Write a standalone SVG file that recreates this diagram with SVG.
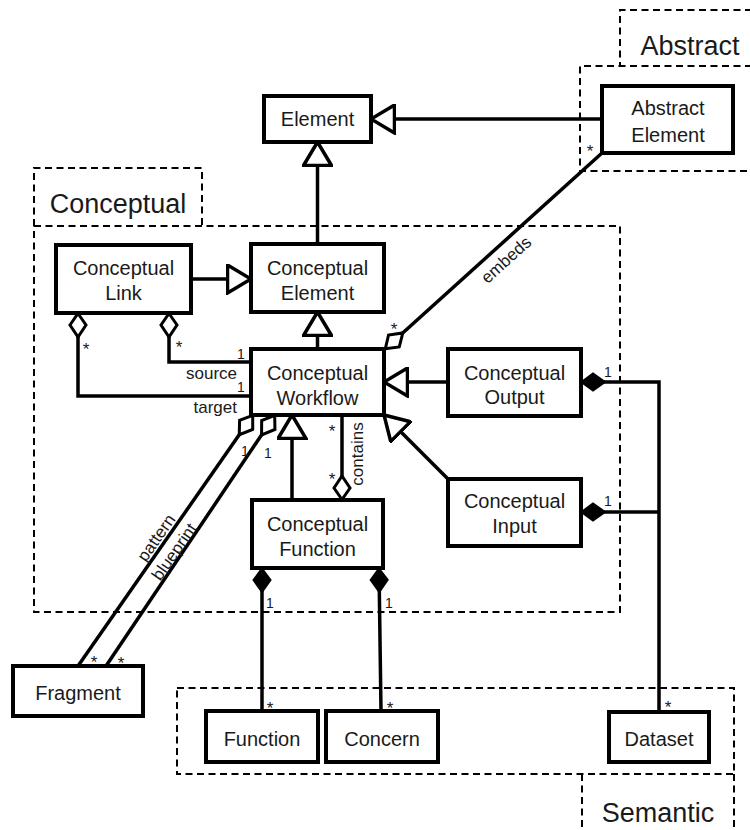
<svg xmlns="http://www.w3.org/2000/svg" width="750" height="830" viewBox="0 0 750 830">
<style>
.pkg{fill:none;stroke:#000;stroke-width:2;stroke-dasharray:7 4.5}
.box{fill:#fff;stroke:#000;stroke-width:4}
.ln{fill:none;stroke:#000;stroke-width:3.5;stroke-linejoin:miter}
.gen{marker-end:url(#tri)}
.agg{marker-start:url(#hdia)}
.cmp{marker-start:url(#fdia)}
text{font-family:"Liberation Sans",Arial,sans-serif;fill:#1a1a1a}
.nt{font-size:20px;text-anchor:middle}
.pt{font-size:27px;text-anchor:middle}
.m{font-size:14px}
.s{font-size:17px;text-anchor:middle}
.r{font-size:17px}
</style>
<defs>
<marker id="tri" viewBox="0 0 27 31" refX="25" refY="15.5" markerWidth="27" markerHeight="31" markerUnits="userSpaceOnUse" orient="auto">
<path d="M1.5,1.5 L25,15.5 L1.5,29.5 Z" fill="#fff" stroke="#000" stroke-width="3.5" stroke-linejoin="miter"/>
</marker>
<marker id="hdia" viewBox="0 0 27 20" refX="1" refY="10" markerWidth="27" markerHeight="20" markerUnits="userSpaceOnUse" orient="auto">
<path d="M1.5,10 L13,2 L25,10 L13,18 Z" fill="#fff" stroke="#000" stroke-width="3"/>
</marker>
<marker id="fdia" viewBox="0 0 27 20" refX="1" refY="10" markerWidth="27" markerHeight="20" markerUnits="userSpaceOnUse" orient="auto">
<path d="M1.5,10 L13,1.5 L25,10 L13,18.5 Z" fill="#000" stroke="#000" stroke-width="2"/>
</marker>
</defs>
<g id="packages">
<path class="pkg" d="M752,10 H620 V66 M752,66 H580 V171 H752"/>
<text class="pt" x="690" y="55">Abstract</text>
<path class="pkg" d="M34,226 V168 H202 V226 M34,226 H620 V612 H34 Z"/>
<text class="pt" x="118" y="213">Conceptual</text>
<path class="pkg" d="M177,688 H734 V774 H177 Z M582,774 V832 M734,774 V832"/>
<text class="pt" x="658" y="822">Semantic</text>
</g>
<g id="connectors">
<path class="ln gen" d="M602,119 H371"/>
<path class="ln gen" d="M317.5,244 V142"/>
<path class="ln gen" d="M191,279 H251"/>
<path class="ln gen" d="M317.5,349 V312"/>
<path class="ln gen" d="M448,382 H384"/>
<path class="ln gen" d="M448,479 L384,415"/>
<path class="ln gen" d="M292,500 V415"/>
<path class="ln agg" d="M169,313 V362 H251"/>
<path class="ln agg" d="M78,313 V396 H251"/>
<path class="ln agg" d="M342,500 V415"/>
<path class="ln agg" d="M385,349 L602,153"/>
<path class="ln agg" d="M253,415 L78,666"/>
<path class="ln agg" d="M275,415 L106,666"/>
<path class="ln cmp" d="M262,568 V711"/>
<path class="ln cmp" d="M379,568 L381,711"/>
<path class="ln cmp" d="M581,382 H659 V712"/>
<path class="ln cmp" d="M581,512 H659"/>
<g id="labels">
<text class="s" x="86" y="355">*</text>
<text class="s" x="179" y="353">*</text>
<text class="m" x="237" y="359">1</text>
<text class="r" x="237" y="379" text-anchor="end">source</text>
<text class="m" x="237" y="392">1</text>
<text class="r" x="237" y="413" text-anchor="end">target</text>
<text class="s" x="332" y="437">*</text>
<text class="s" x="332" y="485">*</text>
<text class="r" transform="translate(363,454) rotate(-90)" text-anchor="middle">contains</text>
<text class="s" x="394" y="335">*</text>
<text class="s" x="590" y="157">*</text>
<text class="r" transform="translate(510,264) rotate(-42.1)" text-anchor="middle">embeds</text>
<text class="m" x="241" y="456">1</text>
<text class="m" x="264" y="458">1</text>
<text class="r" transform="translate(161,541) rotate(-55)" text-anchor="middle">pattern</text>
<text class="r" transform="translate(179,555) rotate(-55)" text-anchor="middle">blueprint</text>
<text class="s" x="94" y="668">*</text>
<text class="s" x="121" y="669">*</text>
<text class="m" x="266" y="608">1</text>
<text class="m" x="385" y="608">1</text>
<text class="s" x="270" y="714">*</text>
<text class="s" x="390" y="714">*</text>
<text class="m" x="604" y="377">1</text>
<text class="m" x="604" y="506">1</text>
<text class="s" x="668" y="713">*</text>
</g>
</g>
<g id="Element"><rect class="box" x="264" y="96" width="107" height="46"/><text class="nt" x="317.5" y="126">Element</text></g>
<g id="AbstractElement"><rect class="box" x="602" y="86" width="131" height="67"/><text class="nt" x="668" y="115">Abstract</text><text class="nt" x="668" y="142">Element</text></g>
<g id="ConceptualLink"><rect class="box" x="56" y="245" width="135" height="68"/><text class="nt" x="123.5" y="275">Conceptual</text><text class="nt" x="123.5" y="300">Link</text></g>
<g id="ConceptualElement"><rect class="box" x="251" y="244" width="133" height="68"/><text class="nt" x="317.5" y="275">Conceptual</text><text class="nt" x="317.5" y="300">Element</text></g>
<g id="ConceptualWorkflow"><rect class="box" x="251" y="349" width="133" height="66"/><text class="nt" x="317.5" y="380">Conceptual</text><text class="nt" x="317.5" y="405">Workflow</text></g>
<g id="ConceptualOutput"><rect class="box" x="448" y="349" width="133" height="67"/><text class="nt" x="514.5" y="380">Conceptual</text><text class="nt" x="514.5" y="404">Output</text></g>
<g id="ConceptualInput"><rect class="box" x="448" y="479" width="133" height="67"/><text class="nt" x="514.5" y="508">Conceptual</text><text class="nt" x="514.5" y="533">Input</text></g>
<g id="ConceptualFunction"><rect class="box" x="252" y="500" width="131" height="68"/><text class="nt" x="317.5" y="531">Conceptual</text><text class="nt" x="317.5" y="556">Function</text></g>
<g id="Fragment"><rect class="box" x="13" y="666" width="130" height="50"/><text class="nt" x="78" y="700">Fragment</text></g>
<g id="Function"><rect class="box" x="206" y="711" width="112" height="51"/><text class="nt" x="262" y="746">Function</text></g>
<g id="Concern"><rect class="box" x="326" y="711" width="112" height="51"/><text class="nt" x="382" y="746">Concern</text></g>
<g id="Dataset"><rect class="box" x="609" y="712" width="100" height="50"/><text class="nt" x="659" y="746">Dataset</text></g>
</svg>
